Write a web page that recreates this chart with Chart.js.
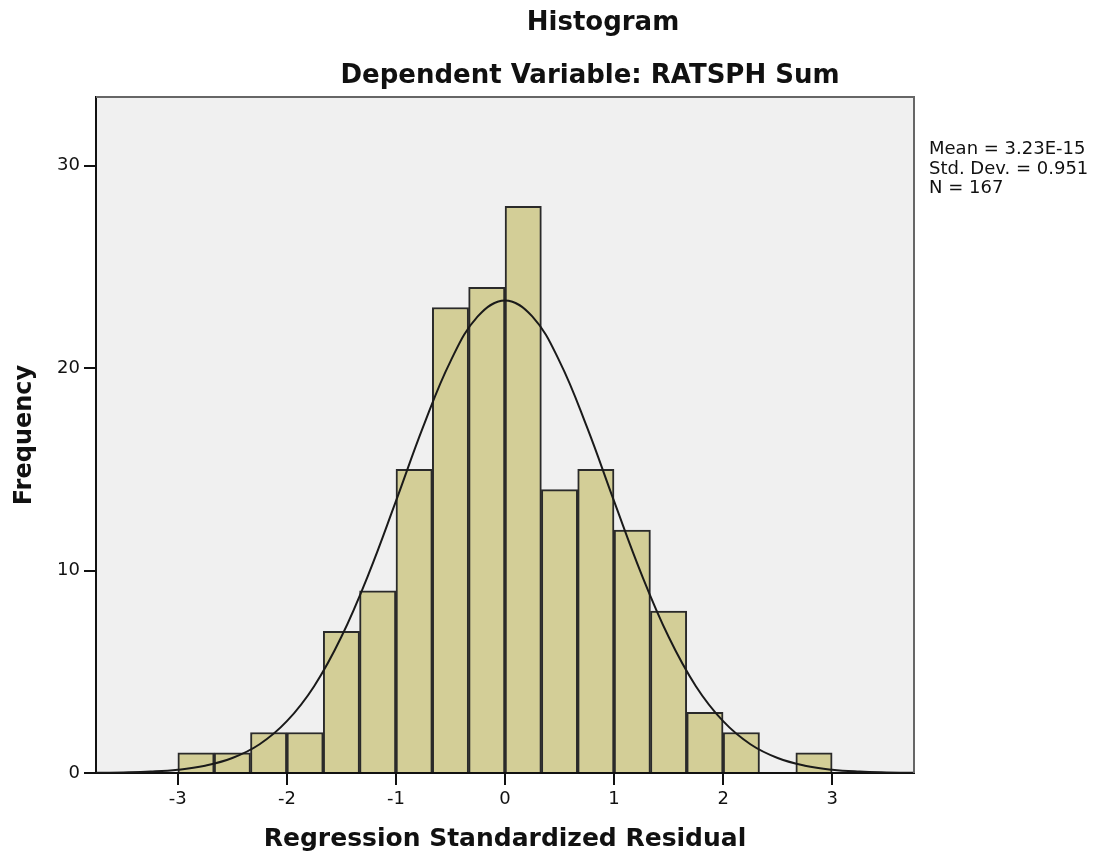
<!DOCTYPE html>
<html>
<head>
<meta charset="utf-8">
<script src="https://cdn.jsdelivr.net/npm/chart.js@4"></script>
<style>
  body { margin: 0; background: #fff; }
  canvas { display: block; }
</style>
</head>
<body>
<canvas id="chart" width="1097" height="860"></canvas>
<script>
// histogram bins (width 1/3), centres on the residual axis
const binCenters = [-2.833, -2.5, -2.167, -1.833, -1.5, -1.167, -0.833, -0.5, -0.167,
                    0.167, 0.5, 0.833, 1.167, 1.5, 1.833, 2.167, 2.5, 2.833];
const frequencies = [1, 1, 2, 2, 7, 9, 15, 23, 24, 28, 14, 15, 12, 8, 3, 2, 0, 1];

// normal curve
const curveX = [-3.75, -3.5, -3.25, -3, -2.75, -2.5, -2.25, -2, -1.75, -1.5, -1.25, -1, -0.75, -0.5, -0.25,
                0, 0.25, 0.5, 0.75, 1, 1.25, 1.5, 1.75, 2, 2.25, 2.5, 2.75, 3, 3.25, 3.5, 3.75];
const curveY = [0.01, 0.03, 0.07, 0.16, 0.36, 0.74, 1.42, 2.56, 4.29, 6.73, 9.84, 13.43, 17.11, 20.34, 22.56,
                23.35, 22.56, 20.34, 17.11, 13.43, 9.84, 6.73, 4.29, 2.56, 1.42, 0.74, 0.36, 0.16, 0.07, 0.03, 0.01];

const xTicks = [-3, -2, -1, 0, 1, 2, 3];
const yTicks = [0, 10, 20, 30];

const title = "Histogram";
const subtitle = "Dependent Variable: RATSPH Sum";
const statsLines = ["Mean = 3.23E-15", "Std. Dev. = 0.951", "N = 167"];

const boldFont = "'DejaVu Sans', sans-serif";

const frame = {
  id: "frame",
  beforeDraw(chart) {
    const { ctx, chartArea: a } = chart;
    ctx.save();
    ctx.fillStyle = "#f0f0f0";
    ctx.fillRect(a.left, a.top, a.right - a.left, a.bottom - a.top);
    ctx.restore();
  },
  afterDraw(chart) {
    const { ctx, chartArea: a } = chart;
    ctx.save();
    ctx.strokeStyle = "#666";
    ctx.lineWidth = 2;
    ctx.beginPath();
    ctx.moveTo(a.left, a.top);
    ctx.lineTo(a.right, a.top);
    ctx.lineTo(a.right, a.bottom);
    ctx.stroke();

    ctx.fillStyle = "#111";
    ctx.textAlign = "center";
    ctx.textBaseline = "alphabetic";
    ctx.font = "bold 26px " + boldFont;
    ctx.fillText(title, 603, 30);
    ctx.fillText(subtitle, 590, 83);

    ctx.textAlign = "left";
    ctx.font = "18px " + boldFont;
    statsLines.forEach((s, i) => ctx.fillText(s, 929, 154 + i * 19.5));
    ctx.restore();
  },
};

new Chart(document.getElementById("chart"), {
  type: "bar",
  data: {
    datasets: [
      {
        type: "line",
        data: curveX.map((x, i) => ({ x, y: curveY[i] })),
        borderColor: "#1a1a1a",
        borderWidth: 2,
        pointRadius: 0,
        tension: 0.4,
        order: 0,
      },
      {
        type: "bar",
        data: binCenters.map((x, i) => ({ x, y: frequencies[i] })),
        backgroundColor: "#d3ce97",
        borderColor: "#2a2a2a",
        borderWidth: 2,
        barPercentage: 1,
        categoryPercentage: 1,
        order: 1,
      },
    ],
  },
  options: {
    responsive: false,
    animation: false,
    devicePixelRatio: 1,
    layout: { padding: { left: 0, top: 97, right: 183, bottom: 0 } },
    plugins: { legend: { display: false }, tooltip: { enabled: false } },
    scales: {
      x: {
        type: "linear",
        offset: false,
        min: -3.75,
        max: 3.75,
        afterBuildTicks: (axis) => { axis.ticks = xTicks.map((v) => ({ value: v })); },
        afterFit: (axis) => { axis.height = 87; },
        grid: { offset: false, drawOnChartArea: false, tickLength: 12, color: "#111", lineWidth: 2 },
        border: { color: "#111", width: 2 },
        ticks: { color: "#111", font: { family: boldFont, size: 18 }, padding: 4, maxRotation: 0 },
        title: {
          display: true,
          text: "Regression Standardized Residual",
          color: "#111",
          font: { family: boldFont, size: 25, weight: "bold" },
          padding: { top: 0, bottom: 6 },
        },
      },
      y: {
        min: 0,
        max: 33.4,
        afterBuildTicks: (axis) => { axis.ticks = yTicks.map((v) => ({ value: v })); },
        afterFit: (axis) => { axis.width = 96; },
        grid: { drawOnChartArea: false, tickLength: 12, color: "#111", lineWidth: 2 },
        border: { color: "#111", width: 2 },
        ticks: { color: "#111", font: { family: boldFont, size: 18 }, padding: 4 },
        title: {
          display: true,
          text: "Frequency",
          color: "#111",
          font: { family: boldFont, size: 24, weight: "bold" },
          padding: { top: 10, bottom: 0 },
        },
      },
    },
  },
  plugins: [frame],
});
</script>
</body>
</html>
